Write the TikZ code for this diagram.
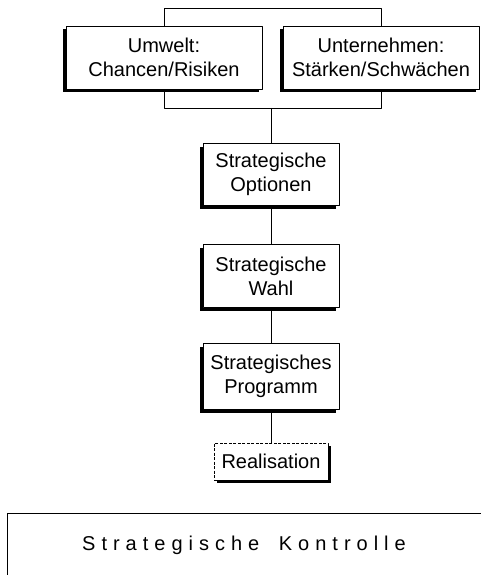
\documentclass[tikz,border=0pt]{standalone}
\usepackage{fontspec}
\setmainfont{Liberation Sans}
\newfontfamily\spreadfont[LetterSpace=30]{Liberation Sans}
\usetikzlibrary{shadows}
\tikzset{
  stepbox/.style={draw, fill=white, line width=0.8pt, align=center, inner sep=0pt,
    font=\fontsize{20}{24}\selectfont,
    drop shadow={shadow xshift=-3.5pt, shadow yshift=-3.5pt, fill=black, opacity=1}},
  realbox/.style={draw, fill=white, line width=0.8pt, dash pattern=on 3pt off 1.5pt, inner sep=0pt,
    font=\fontsize{20}{24}\selectfont,
    drop shadow={shadow xshift=3pt, shadow yshift=-3pt, fill=black, opacity=1}},
  link/.style={line width=1pt}
}
\begin{document}
\begin{tikzpicture}[x=1pt, y=-1pt, line join=round]
	\useasboundingbox (0,0) rectangle (480,575);
	% Analyse
	\node[stepbox, minimum width=196pt, minimum height=63pt] (umwelt) at (164,57.5) {Umwelt:\\Chancen/Risiken};
	\node[stepbox, minimum width=196pt, minimum height=63pt] (unternehmen) at (381,57.5) {Unternehmen:\\Stärken/Schwächen};
	% Kette
	\node[stepbox, minimum width=136pt, minimum height=62pt] (optionen) at (271,174) {Strategische\\Optionen};
	\node[stepbox, minimum width=136pt, minimum height=63pt] (wahl) at (271,276) {Strategische\\Wahl};
	\node[stepbox, minimum width=136pt, minimum height=66pt] (programm) at (271,376) {Strategisches\\Programm};
	\node[realbox, minimum width=114pt, minimum height=37pt] (realisation) at (271,461.5) {Realisation};
	% Klammer
	\draw[link] (umwelt.north) -- ++(0,-17) -| (unternehmen.north);
	\draw[link] (umwelt.south) -- ++(0,19) -| (unternehmen.south);
	\coordinate (join) at (271,108);
	\draw[link] (join) -- (optionen.north);
	\draw[link] (optionen.south) -- (wahl.north);
	\draw[link] (wahl.south) -- (programm.north);
	\draw[link] (programm.south) -- (realisation.north);
	% Kontrolle
	\draw[line width=0.8pt] (7,513) rectangle (490,590);
	\node[font=\spreadfont\fontsize{20}{24}\selectfont] (kontrolle) at (244,545) {Strategische\hspace{8pt} Kontrolle};
\end{tikzpicture}
\end{document}
